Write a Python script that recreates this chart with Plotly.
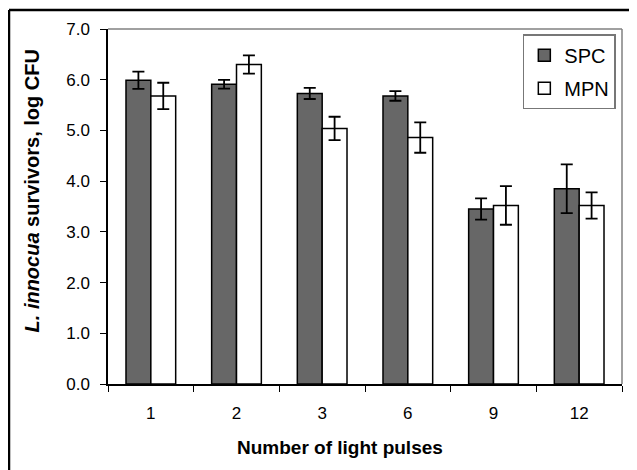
import plotly.graph_objects as go

categories = ["1", "2", "3", "6", "9", "12"]
spc_values = [5.99, 5.91, 5.73, 5.68, 3.45, 3.85]
spc_errors = [0.17, 0.085, 0.11, 0.095, 0.21, 0.48]
mpn_values = [5.68, 6.30, 5.04, 4.86, 3.52, 3.52]
mpn_errors = [0.26, 0.18, 0.23, 0.30, 0.38, 0.26]
y_ticks = [0, 1, 2, 3, 4, 5, 6, 7]

FONT = "Liberation Sans, Arial, sans-serif"

fig = go.Figure()
fig.add_trace(go.Bar(
    name="SPC", x=categories, y=spc_values,
    marker=dict(color="#676767", line=dict(color="black", width=1.5)),
    error_y=dict(type="data", array=spc_errors, color="black", thickness=1.8, width=6),
    legendgroup="a",
))
fig.add_trace(go.Bar(
    name="MPN", x=categories, y=mpn_values,
    marker=dict(color="white", line=dict(color="black", width=1.5)),
    error_y=dict(type="data", array=mpn_errors, color="black", thickness=1.8, width=6),
    legendgroup="b",
))

# The page body adds an 8px offset, so margins are shifted accordingly
fig.update_layout(
    width=637, height=470,
    margin=dict(l=100, r=23, t=21, b=94),
    paper_bgcolor="white", plot_bgcolor="white",
    barmode="group", bargap=0.42, bargroupgap=0,
    font=dict(family=FONT, size=17, color="black"),
    showlegend=True,
    legend=dict(
        x=0.988, xanchor="right", y=0.985, yanchor="top",
        bordercolor="#777777", borderwidth=1.5, bgcolor="white",
        font=dict(size=20), tracegroupgap=4, traceorder="grouped",
        itemwidth=30,
    ),
    xaxis=dict(
        type="category", showline=True, linecolor="black", linewidth=1.5,
        ticks="outside", tickson="boundaries", ticklen=6, tickcolor="black",
        tickwidth=1.2, ticklabelstandoff=13,
        showgrid=False,
    ),
    yaxis=dict(
        range=[0, 7], tickvals=y_ticks, tickformat=".1f",
        showline=True, linecolor="black", linewidth=1.5,
        ticks="outside", ticklen=6, tickcolor="black", tickwidth=1.2,
        ticklabelstandoff=7, showgrid=False, zeroline=False,
    ),
    annotations=[
        dict(text="<b>Number of light pulses</b>", xref="paper", yref="paper",
             x=0.451, y=-0.180, xanchor="center", yanchor="middle",
             showarrow=False, font=dict(size=19)),
        dict(text="<b><i>L. innocua</i> survivors, log CFU</b>", xref="paper", yref="paper",
             x=-0.148, y=0.545, xanchor="center", yanchor="middle", textangle=-90,
             showarrow=False, font=dict(size=20)),
    ],
)

# Grey top/right frame of the plot area
fig.add_shape(type="line", xref="paper", yref="paper", x0=0, x1=1, y0=1, y1=1,
              line=dict(color="#808080", width=1.5))
fig.add_shape(type="line", xref="paper", yref="paper", x0=1, x1=1, y0=0, y1=1,
              line=dict(color="#808080", width=1.5))
# Outer image frame (left and top edges visible)
fig.add_shape(type="line", xref="paper", yref="paper", x0=-0.1926, x1=-0.1926, y0=-0.3, y1=1.0535,
              line=dict(color="black", width=2.5))
fig.add_shape(type="line", xref="paper", yref="paper", x0=-0.1926, x1=1.1, y0=1.0535, y1=1.0535,
              line=dict(color="black", width=2.5))

fig.write_html("out.html")
